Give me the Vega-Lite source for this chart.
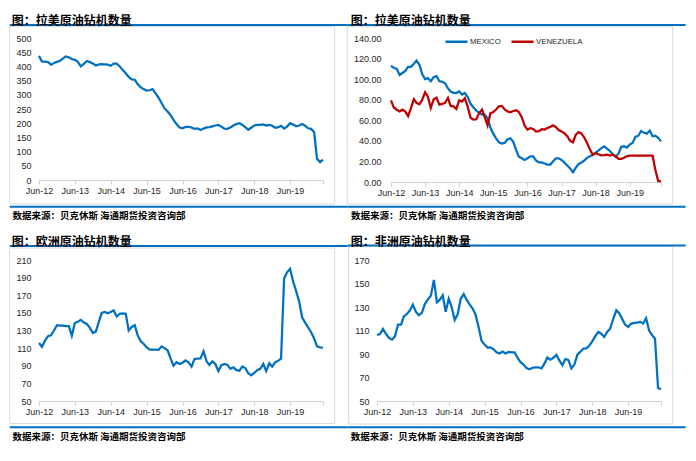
{
  "$schema": "https://vega.github.io/schema/vega-lite/v6.json",
  "background": "white",
  "padding": {"left": 8, "top": 14, "right": 2, "bottom": 2},
  "autosize": {"type": "pad"},
  "columns": 2,
  "spacing": {"row": 78, "column": 54},
  "bounds": "flush",
  "resolve": {"scale": {"color": "independent"}, "legend": {"color": "independent"}},
  "config": {
    "view": {"stroke": null},
    "title": {"anchor": "start", "frame": "bounds", "font": "Noto Sans CJK SC", "fontSize": 12, "fontWeight": "bold", "color": "#000000", "offset": -4},
    "axis": {"labelFont": "Liberation Sans", "labelFontSize": 9, "labelColor": "#262626", "grid": false, "labelOverlap": false},
    "axisX": {"domainColor": "#d0d0d0", "tickColor": "#d0d0d0", "tickSize": 4, "labelPadding": 2, "labelFlush": false, "labelOverlap": false, "labelBound": false},
    "axisY": {"domain": false, "ticks": false, "tickSize": 0, "labelPadding": 8, "labelOverlap": false}
  },
  "datasets": {
    "latam": [
      {"date":"2012-06-01","value":437},{"date":"2012-07-01","value":417},{"date":"2012-08-01","value":417},{"date":"2012-09-01","value":415},{"date":"2012-10-01","value":406},{"date":"2012-11-01","value":412},{"date":"2012-12-01","value":416},{"date":"2013-01-01","value":420},{"date":"2013-02-01","value":428},{"date":"2013-03-01","value":435},{"date":"2013-04-01","value":432},{"date":"2013-05-01","value":426},
      {"date":"2013-06-01","value":423},{"date":"2013-07-01","value":416},{"date":"2013-08-01","value":400},{"date":"2013-09-01","value":409},{"date":"2013-10-01","value":419},{"date":"2013-11-01","value":415},{"date":"2013-12-01","value":410},{"date":"2014-01-01","value":403},{"date":"2014-02-01","value":407},{"date":"2014-03-01","value":408},{"date":"2014-04-01","value":407},{"date":"2014-05-01","value":406},
      {"date":"2014-06-01","value":402},{"date":"2014-07-01","value":410},{"date":"2014-08-01","value":410},{"date":"2014-09-01","value":400},{"date":"2014-10-01","value":387},{"date":"2014-11-01","value":376},{"date":"2014-12-01","value":363},{"date":"2015-01-01","value":354},{"date":"2015-02-01","value":353},{"date":"2015-03-01","value":338},{"date":"2015-04-01","value":327},{"date":"2015-05-01","value":320},
      {"date":"2015-06-01","value":315},{"date":"2015-07-01","value":316},{"date":"2015-08-01","value":320},{"date":"2015-09-01","value":305},{"date":"2015-10-01","value":290},{"date":"2015-11-01","value":271},{"date":"2015-12-01","value":252},{"date":"2016-01-01","value":241},{"date":"2016-02-01","value":228},{"date":"2016-03-01","value":212},{"date":"2016-04-01","value":197},{"date":"2016-05-01","value":185},
      {"date":"2016-06-01","value":182},{"date":"2016-07-01","value":187},{"date":"2016-08-01","value":187},{"date":"2016-09-01","value":185},{"date":"2016-10-01","value":180},{"date":"2016-11-01","value":182},{"date":"2016-12-01","value":176},{"date":"2017-01-01","value":181},{"date":"2017-02-01","value":185},{"date":"2017-03-01","value":186},{"date":"2017-04-01","value":189},{"date":"2017-05-01","value":192},
      {"date":"2017-06-01","value":194},{"date":"2017-07-01","value":188},{"date":"2017-08-01","value":181},{"date":"2017-09-01","value":180},{"date":"2017-10-01","value":185},{"date":"2017-11-01","value":192},{"date":"2017-12-01","value":197},{"date":"2018-01-01","value":200},{"date":"2018-02-01","value":194},{"date":"2018-03-01","value":186},{"date":"2018-04-01","value":177},{"date":"2018-05-01","value":184},
      {"date":"2018-06-01","value":192},{"date":"2018-07-01","value":194},{"date":"2018-08-01","value":194},{"date":"2018-09-01","value":196},{"date":"2018-10-01","value":192},{"date":"2018-11-01","value":194},{"date":"2018-12-01","value":191},{"date":"2019-01-01","value":184},{"date":"2019-02-01","value":186},{"date":"2019-03-01","value":191},{"date":"2019-04-01","value":181},{"date":"2019-05-01","value":188},
      {"date":"2019-06-01","value":200},{"date":"2019-07-01","value":195},{"date":"2019-08-01","value":189},{"date":"2019-09-01","value":192},{"date":"2019-10-01","value":197},{"date":"2019-11-01","value":191},{"date":"2019-12-01","value":182},{"date":"2020-01-01","value":180},{"date":"2020-02-01","value":168},{"date":"2020-03-01","value":75},{"date":"2020-04-01","value":63},{"date":"2020-05-01","value":72}
    ],
    "latam_split": [
      {"date":"2012-06-01","series":"MEXICO","value":113},{"date":"2012-07-01","series":"MEXICO","value":111},{"date":"2012-08-01","series":"MEXICO","value":110},{"date":"2012-09-01","series":"MEXICO","value":104},{"date":"2012-10-01","series":"MEXICO","value":106},{"date":"2012-11-01","series":"MEXICO","value":108},{"date":"2012-12-01","series":"MEXICO","value":112},{"date":"2013-01-01","series":"MEXICO","value":112},{"date":"2013-02-01","series":"MEXICO","value":115},{"date":"2013-03-01","series":"MEXICO","value":118},{"date":"2013-04-01","series":"MEXICO","value":114},{"date":"2013-05-01","series":"MEXICO","value":105},
      {"date":"2013-06-01","series":"MEXICO","value":100},{"date":"2013-07-01","series":"MEXICO","value":101},{"date":"2013-08-01","series":"MEXICO","value":98},{"date":"2013-09-01","series":"MEXICO","value":102},{"date":"2013-10-01","series":"MEXICO","value":103},{"date":"2013-11-01","series":"MEXICO","value":98},{"date":"2013-12-01","series":"MEXICO","value":97.5},{"date":"2014-01-01","series":"MEXICO","value":96},{"date":"2014-02-01","series":"MEXICO","value":91},{"date":"2014-03-01","series":"MEXICO","value":88},{"date":"2014-04-01","series":"MEXICO","value":86.7},{"date":"2014-05-01","series":"MEXICO","value":86.5},
      {"date":"2014-06-01","series":"MEXICO","value":88},{"date":"2014-07-01","series":"MEXICO","value":85},{"date":"2014-08-01","series":"MEXICO","value":86.5},{"date":"2014-09-01","series":"MEXICO","value":82.5},{"date":"2014-10-01","series":"MEXICO","value":76},{"date":"2014-11-01","series":"MEXICO","value":72.5},{"date":"2014-12-01","series":"MEXICO","value":69.5},{"date":"2015-01-01","series":"MEXICO","value":67.3},{"date":"2015-02-01","series":"MEXICO","value":65.6},{"date":"2015-03-01","series":"MEXICO","value":65.5},{"date":"2015-04-01","series":"MEXICO","value":62},{"date":"2015-05-01","series":"MEXICO","value":53},
      {"date":"2015-06-01","series":"MEXICO","value":47},{"date":"2015-07-01","series":"MEXICO","value":42.5},{"date":"2015-08-01","series":"MEXICO","value":38.6},{"date":"2015-09-01","series":"MEXICO","value":37.3},{"date":"2015-10-01","series":"MEXICO","value":38},{"date":"2015-11-01","series":"MEXICO","value":41.5},{"date":"2015-12-01","series":"MEXICO","value":42.5},{"date":"2016-01-01","series":"MEXICO","value":39},{"date":"2016-02-01","series":"MEXICO","value":31},{"date":"2016-03-01","series":"MEXICO","value":24.5},{"date":"2016-04-01","series":"MEXICO","value":23},{"date":"2016-05-01","series":"MEXICO","value":21.5},
      {"date":"2016-06-01","series":"MEXICO","value":23},{"date":"2016-07-01","series":"MEXICO","value":25},{"date":"2016-08-01","series":"MEXICO","value":25},{"date":"2016-09-01","series":"MEXICO","value":21},{"date":"2016-10-01","series":"MEXICO","value":19},{"date":"2016-11-01","series":"MEXICO","value":19},{"date":"2016-12-01","series":"MEXICO","value":18},{"date":"2017-01-01","series":"MEXICO","value":17},{"date":"2017-02-01","series":"MEXICO","value":17},{"date":"2017-03-01","series":"MEXICO","value":20},{"date":"2017-04-01","series":"MEXICO","value":23},{"date":"2017-05-01","series":"MEXICO","value":23},
      {"date":"2017-06-01","series":"MEXICO","value":21.5},{"date":"2017-07-01","series":"MEXICO","value":19},{"date":"2017-08-01","series":"MEXICO","value":16},{"date":"2017-09-01","series":"MEXICO","value":13.2},{"date":"2017-10-01","series":"MEXICO","value":9.5},{"date":"2017-11-01","series":"MEXICO","value":14},{"date":"2017-12-01","series":"MEXICO","value":17.5},{"date":"2018-01-01","series":"MEXICO","value":19},{"date":"2018-02-01","series":"MEXICO","value":21},{"date":"2018-03-01","series":"MEXICO","value":23.5},{"date":"2018-04-01","series":"MEXICO","value":25},{"date":"2018-05-01","series":"MEXICO","value":26.3},
      {"date":"2018-06-01","series":"MEXICO","value":28.5},{"date":"2018-07-01","series":"MEXICO","value":30.5},{"date":"2018-08-01","series":"MEXICO","value":33},{"date":"2018-09-01","series":"MEXICO","value":34.6},{"date":"2018-10-01","series":"MEXICO","value":32.5},{"date":"2018-11-01","series":"MEXICO","value":30.2},{"date":"2018-12-01","series":"MEXICO","value":27},{"date":"2019-01-01","series":"MEXICO","value":24.6},{"date":"2019-02-01","series":"MEXICO","value":27.5},{"date":"2019-03-01","series":"MEXICO","value":34},{"date":"2019-04-01","series":"MEXICO","value":34.7},{"date":"2019-05-01","series":"MEXICO","value":33.5},
      {"date":"2019-06-01","series":"MEXICO","value":36.3},{"date":"2019-07-01","series":"MEXICO","value":38},{"date":"2019-08-01","series":"MEXICO","value":43.8},{"date":"2019-09-01","series":"MEXICO","value":45},{"date":"2019-10-01","series":"MEXICO","value":49.6},{"date":"2019-11-01","series":"MEXICO","value":47.8},{"date":"2019-12-01","series":"MEXICO","value":47},{"date":"2020-01-01","series":"MEXICO","value":50},{"date":"2020-02-01","series":"MEXICO","value":44.4},{"date":"2020-03-01","series":"MEXICO","value":45},{"date":"2020-04-01","series":"MEXICO","value":43},{"date":"2020-05-01","series":"MEXICO","value":39.5},
      {"date":"2012-06-01","series":"VENEZUELA","value":79.4},{"date":"2012-07-01","series":"VENEZUELA","value":72.5},{"date":"2012-08-01","series":"VENEZUELA","value":70.3},{"date":"2012-09-01","series":"VENEZUELA","value":68.7},{"date":"2012-10-01","series":"VENEZUELA","value":70.3},{"date":"2012-11-01","series":"VENEZUELA","value":68.5},{"date":"2012-12-01","series":"VENEZUELA","value":64},{"date":"2013-01-01","series":"VENEZUELA","value":72},{"date":"2013-02-01","series":"VENEZUELA","value":80.5},{"date":"2013-03-01","series":"VENEZUELA","value":77},{"date":"2013-04-01","series":"VENEZUELA","value":75.5},{"date":"2013-05-01","series":"VENEZUELA","value":80},
      {"date":"2013-06-01","series":"VENEZUELA","value":87.2},{"date":"2013-07-01","series":"VENEZUELA","value":83},{"date":"2013-08-01","series":"VENEZUELA","value":72},{"date":"2013-09-01","series":"VENEZUELA","value":80.5},{"date":"2013-10-01","series":"VENEZUELA","value":82},{"date":"2013-11-01","series":"VENEZUELA","value":75.2},{"date":"2013-12-01","series":"VENEZUELA","value":76},{"date":"2014-01-01","series":"VENEZUELA","value":77},{"date":"2014-02-01","series":"VENEZUELA","value":81.7},{"date":"2014-03-01","series":"VENEZUELA","value":74},{"date":"2014-04-01","series":"VENEZUELA","value":73.5},{"date":"2014-05-01","series":"VENEZUELA","value":71},
      {"date":"2014-06-01","series":"VENEZUELA","value":79.4},{"date":"2014-07-01","series":"VENEZUELA","value":78.2},{"date":"2014-08-01","series":"VENEZUELA","value":81.5},{"date":"2014-09-01","series":"VENEZUELA","value":73},{"date":"2014-10-01","series":"VENEZUELA","value":62.4},{"date":"2014-11-01","series":"VENEZUELA","value":60.6},{"date":"2014-12-01","series":"VENEZUELA","value":61},{"date":"2015-01-01","series":"VENEZUELA","value":67},{"date":"2015-02-01","series":"VENEZUELA","value":70.5},{"date":"2015-03-01","series":"VENEZUELA","value":63},{"date":"2015-04-01","series":"VENEZUELA","value":55},{"date":"2015-05-01","series":"VENEZUELA","value":66.7},
      {"date":"2015-06-01","series":"VENEZUELA","value":68},{"date":"2015-07-01","series":"VENEZUELA","value":70.5},{"date":"2015-08-01","series":"VENEZUELA","value":73.5},{"date":"2015-09-01","series":"VENEZUELA","value":74},{"date":"2015-10-01","series":"VENEZUELA","value":70.5},{"date":"2015-11-01","series":"VENEZUELA","value":68.6},{"date":"2015-12-01","series":"VENEZUELA","value":67.8},{"date":"2016-01-01","series":"VENEZUELA","value":69},{"date":"2016-02-01","series":"VENEZUELA","value":69.7},{"date":"2016-03-01","series":"VENEZUELA","value":68},{"date":"2016-04-01","series":"VENEZUELA","value":63},{"date":"2016-05-01","series":"VENEZUELA","value":55},
      {"date":"2016-06-01","series":"VENEZUELA","value":51},{"date":"2016-07-01","series":"VENEZUELA","value":52.3},{"date":"2016-08-01","series":"VENEZUELA","value":51.5},{"date":"2016-09-01","series":"VENEZUELA","value":49},{"date":"2016-10-01","series":"VENEZUELA","value":49.5},{"date":"2016-11-01","series":"VENEZUELA","value":51.3},{"date":"2016-12-01","series":"VENEZUELA","value":51},{"date":"2017-01-01","series":"VENEZUELA","value":52.5},{"date":"2017-02-01","series":"VENEZUELA","value":53.6},{"date":"2017-03-01","series":"VENEZUELA","value":55.2},{"date":"2017-04-01","series":"VENEZUELA","value":53.5},{"date":"2017-05-01","series":"VENEZUELA","value":50.5},
      {"date":"2017-06-01","series":"VENEZUELA","value":49},{"date":"2017-07-01","series":"VENEZUELA","value":47.5},{"date":"2017-08-01","series":"VENEZUELA","value":44.5},{"date":"2017-09-01","series":"VENEZUELA","value":40},{"date":"2017-10-01","series":"VENEZUELA","value":38.5},{"date":"2017-11-01","series":"VENEZUELA","value":46},{"date":"2017-12-01","series":"VENEZUELA","value":48.5},{"date":"2018-01-01","series":"VENEZUELA","value":47},{"date":"2018-02-01","series":"VENEZUELA","value":43},{"date":"2018-03-01","series":"VENEZUELA","value":38},{"date":"2018-04-01","series":"VENEZUELA","value":31.5},{"date":"2018-05-01","series":"VENEZUELA","value":26.6},
      {"date":"2018-06-01","series":"VENEZUELA","value":28},{"date":"2018-07-01","series":"VENEZUELA","value":27},{"date":"2018-08-01","series":"VENEZUELA","value":26},{"date":"2018-09-01","series":"VENEZUELA","value":26.2},{"date":"2018-10-01","series":"VENEZUELA","value":26.5},{"date":"2018-11-01","series":"VENEZUELA","value":25.8},{"date":"2018-12-01","series":"VENEZUELA","value":26.6},{"date":"2019-01-01","series":"VENEZUELA","value":25},{"date":"2019-02-01","series":"VENEZUELA","value":22.5},{"date":"2019-03-01","series":"VENEZUELA","value":22.4},{"date":"2019-04-01","series":"VENEZUELA","value":23.5},{"date":"2019-05-01","series":"VENEZUELA","value":25},
      {"date":"2019-06-01","series":"VENEZUELA","value":25.6},{"date":"2019-07-01","series":"VENEZUELA","value":25.6},{"date":"2019-08-01","series":"VENEZUELA","value":25.6},{"date":"2019-09-01","series":"VENEZUELA","value":25.6},{"date":"2019-10-01","series":"VENEZUELA","value":25.6},{"date":"2019-11-01","series":"VENEZUELA","value":25.6},{"date":"2019-12-01","series":"VENEZUELA","value":25.6},{"date":"2020-01-01","series":"VENEZUELA","value":25.6},{"date":"2020-02-01","series":"VENEZUELA","value":25.6},{"date":"2020-03-01","series":"VENEZUELA","value":12},{"date":"2020-04-01","series":"VENEZUELA","value":1},{"date":"2020-05-01","series":"VENEZUELA","value":0.6}
    ],
    "europe": [
      {"date":"2012-06-01","value":115.8},{"date":"2012-07-01","value":111.5},{"date":"2012-08-01","value":118.5},{"date":"2012-09-01","value":123.5},{"date":"2012-10-01","value":124.5},{"date":"2012-11-01","value":130},{"date":"2012-12-01","value":136},{"date":"2013-01-01","value":135.5},{"date":"2013-02-01","value":135.5},{"date":"2013-03-01","value":135},{"date":"2013-04-01","value":135},{"date":"2013-05-01","value":124},
      {"date":"2013-06-01","value":138.5},{"date":"2013-07-01","value":140},{"date":"2013-08-01","value":142},{"date":"2013-09-01","value":139},{"date":"2013-10-01","value":137.4},{"date":"2013-11-01","value":133},{"date":"2013-12-01","value":127.2},{"date":"2014-01-01","value":129},{"date":"2014-02-01","value":140},{"date":"2014-03-01","value":150},{"date":"2014-04-01","value":151},{"date":"2014-05-01","value":149.5},
      {"date":"2014-06-01","value":151},{"date":"2014-07-01","value":153},{"date":"2014-08-01","value":146},{"date":"2014-09-01","value":149},{"date":"2014-10-01","value":149.5},{"date":"2014-11-01","value":149},{"date":"2014-12-01","value":130},{"date":"2015-01-01","value":134},{"date":"2015-02-01","value":136},{"date":"2015-03-01","value":125},{"date":"2015-04-01","value":118},{"date":"2015-05-01","value":115},
      {"date":"2015-06-01","value":111},{"date":"2015-07-01","value":108.3},{"date":"2015-08-01","value":108.3},{"date":"2015-09-01","value":108.3},{"date":"2015-10-01","value":108},{"date":"2015-11-01","value":112},{"date":"2015-12-01","value":110},{"date":"2016-01-01","value":107.5},{"date":"2016-02-01","value":98},{"date":"2016-03-01","value":90.1},{"date":"2016-04-01","value":94},{"date":"2016-05-01","value":92},
      {"date":"2016-06-01","value":93.5},{"date":"2016-07-01","value":96},{"date":"2016-08-01","value":94},{"date":"2016-09-01","value":89},{"date":"2016-10-01","value":97.7},{"date":"2016-11-01","value":98.2},{"date":"2016-12-01","value":98.4},{"date":"2017-01-01","value":106.5},{"date":"2017-02-01","value":95},{"date":"2017-03-01","value":91},{"date":"2017-04-01","value":95},{"date":"2017-05-01","value":92},
      {"date":"2017-06-01","value":84},{"date":"2017-07-01","value":90.5},{"date":"2017-08-01","value":92},{"date":"2017-09-01","value":91},{"date":"2017-10-01","value":86.5},{"date":"2017-11-01","value":88.2},{"date":"2017-12-01","value":85},{"date":"2018-01-01","value":84.4},{"date":"2018-02-01","value":89.3},{"date":"2018-03-01","value":87.5},{"date":"2018-04-01","value":81.5},{"date":"2018-05-01","value":79},
      {"date":"2018-06-01","value":81.8},{"date":"2018-07-01","value":85},{"date":"2018-08-01","value":86.5},{"date":"2018-09-01","value":92},{"date":"2018-10-01","value":84},{"date":"2018-11-01","value":93},{"date":"2018-12-01","value":89},{"date":"2019-01-01","value":94},{"date":"2019-02-01","value":95.8},{"date":"2019-03-01","value":98},{"date":"2019-04-01","value":189},{"date":"2019-05-01","value":196},
      {"date":"2019-06-01","value":200},{"date":"2019-07-01","value":186},{"date":"2019-08-01","value":175},{"date":"2019-09-01","value":163},{"date":"2019-10-01","value":145},{"date":"2019-11-01","value":139},{"date":"2019-12-01","value":133.6},{"date":"2020-01-01","value":128},{"date":"2020-02-01","value":121},{"date":"2020-03-01","value":112},{"date":"2020-04-01","value":110.9},{"date":"2020-05-01","value":110.5}
    ],
    "africa": [
      {"date":"2012-06-01","value":106.2},{"date":"2012-07-01","value":107},{"date":"2012-08-01","value":111.3},{"date":"2012-09-01","value":107},{"date":"2012-10-01","value":103.8},{"date":"2012-11-01","value":102.2},{"date":"2012-12-01","value":105},{"date":"2013-01-01","value":115},{"date":"2013-02-01","value":115},{"date":"2013-03-01","value":122},{"date":"2013-04-01","value":124},{"date":"2013-05-01","value":127},
      {"date":"2013-06-01","value":132},{"date":"2013-07-01","value":126},{"date":"2013-08-01","value":123},{"date":"2013-09-01","value":125},{"date":"2013-10-01","value":132.5},{"date":"2013-11-01","value":136.5},{"date":"2013-12-01","value":139.5},{"date":"2014-01-01","value":153},{"date":"2014-02-01","value":134},{"date":"2014-03-01","value":136},{"date":"2014-04-01","value":140},{"date":"2014-05-01","value":126},
      {"date":"2014-06-01","value":137},{"date":"2014-07-01","value":130},{"date":"2014-08-01","value":119},{"date":"2014-09-01","value":124},{"date":"2014-10-01","value":137},{"date":"2014-11-01","value":141},{"date":"2014-12-01","value":136},{"date":"2015-01-01","value":132},{"date":"2015-02-01","value":128.5},{"date":"2015-03-01","value":123.5},{"date":"2015-04-01","value":113},{"date":"2015-05-01","value":101.3},
      {"date":"2015-06-01","value":98},{"date":"2015-07-01","value":95.5},{"date":"2015-08-01","value":95.7},{"date":"2015-09-01","value":94},{"date":"2015-10-01","value":91.4},{"date":"2015-11-01","value":90.5},{"date":"2015-12-01","value":92},{"date":"2016-01-01","value":90.4},{"date":"2016-02-01","value":91.7},{"date":"2016-03-01","value":91.4},{"date":"2016-04-01","value":91.4},{"date":"2016-05-01","value":87},
      {"date":"2016-06-01","value":83},{"date":"2016-07-01","value":81},{"date":"2016-08-01","value":78},{"date":"2016-09-01","value":77},{"date":"2016-10-01","value":78.3},{"date":"2016-11-01","value":78.7},{"date":"2016-12-01","value":78.7},{"date":"2017-01-01","value":77.7},{"date":"2017-02-01","value":82},{"date":"2017-03-01","value":87},{"date":"2017-04-01","value":85.2},{"date":"2017-05-01","value":86.8},
      {"date":"2017-06-01","value":89.2},{"date":"2017-07-01","value":84.5},{"date":"2017-08-01","value":80.5},{"date":"2017-09-01","value":85.7},{"date":"2017-10-01","value":85},{"date":"2017-11-01","value":77.8},{"date":"2017-12-01","value":81},{"date":"2018-01-01","value":89.5},{"date":"2018-02-01","value":92},{"date":"2018-03-01","value":94.5},{"date":"2018-04-01","value":94.8},{"date":"2018-05-01","value":97},
      {"date":"2018-06-01","value":100.8},{"date":"2018-07-01","value":105},{"date":"2018-08-01","value":108.8},{"date":"2018-09-01","value":107.3},{"date":"2018-10-01","value":104.5},{"date":"2018-11-01","value":109},{"date":"2018-12-01","value":111.5},{"date":"2019-01-01","value":120},{"date":"2019-02-01","value":127.2},{"date":"2019-03-01","value":125},{"date":"2019-04-01","value":120},{"date":"2019-05-01","value":115},
      {"date":"2019-06-01","value":113},{"date":"2019-07-01","value":115.7},{"date":"2019-08-01","value":116.4},{"date":"2019-09-01","value":116.6},{"date":"2019-10-01","value":117.4},{"date":"2019-11-01","value":116},{"date":"2019-12-01","value":120.4},{"date":"2020-01-01","value":110},{"date":"2020-02-01","value":106},{"date":"2020-03-01","value":103},{"date":"2020-04-01","value":61},{"date":"2020-05-01","value":60}
    ]
  },
  "concat": [
    {
      "width": 284, "height": 142,
      "title": {"text": "图：拉美原油钻机数量", "dx": 3},
      "layer": [
        {
          "data": {"name": "latam"},
          "mark": {"type": "line", "color": "#0070C0", "strokeWidth": 2.25},
          "encoding": {
            "x": {"field": "date", "type": "temporal",
              "scale": {"domain": [{"year": 2012, "month": 6, "date": 1}, {"year": 2020, "month": 5, "date": 1}], "nice": false},
              "axis": {"title": null, "format": "%b-%y", "tickCount": 40, "labelOverlap": false, "labelExpr": "year(datum.value) >= 2020 ? '' : datum.label",
                "values": [{"year": 2012, "month": 6, "date": 1}, {"year": 2013, "month": 6, "date": 1}, {"year": 2014, "month": 6, "date": 1}, {"year": 2015, "month": 6, "date": 1}, {"year": 2016, "month": 6, "date": 1}, {"year": 2017, "month": 6, "date": 1}, {"year": 2018, "month": 6, "date": 1}, {"year": 2019, "month": 6, "date": 1}, {"year": 2020, "month": 5, "date": 1}]}},
            "y": {"field": "value", "type": "quantitative",
              "scale": {"domain": [0, 500], "nice": false, "zero": false},
              "axis": {"title": null, "tickCount": 40, "labelOverlap": false, "values": [0, 50, 100, 150, 200, 250, 300, 350, 400, 450, 500]}}
          }
        },
        {
          "data": {"values": [{}]},
          "mark": {"type": "rect", "fill": "transparent", "stroke": "#d9d9d9", "strokeWidth": 1},
          "encoding": {
            "x": {"datum": {"year": 2011, "month": 8, "date": 8}, "type": "temporal", "axis": {"labelOverlap": false}},
            "x2": {"datum": {"year": 2020, "month": 8, "date": 28}},
            "y": {"datum": 540, "type": "quantitative", "axis": {"labelOverlap": false}},
            "y2": {"datum": -84.5}
          }
        },
        {
          "data": {"values": [{}]},
          "mark": {"type": "rule", "color": "#0070C0", "strokeWidth": 2},
          "encoding": {
            "x": {"datum": {"year": 2011, "month": 8, "date": 8}, "type": "temporal", "axis": {"labelOverlap": false}},
            "x2": {"datum": {"year": 2021, "month": 1, "date": 7}},
            "y": {"datum": 546, "type": "quantitative", "axis": {"labelOverlap": false}}
          }
        },
        {
          "data": {"values": [{}]},
          "mark": {"type": "rule", "color": "#0070C0", "strokeWidth": 2},
          "encoding": {
            "x": {"datum": {"year": 2011, "month": 8, "date": 8}, "type": "temporal", "axis": {"labelOverlap": false}},
            "x2": {"datum": {"year": 2021, "month": 1, "date": 7}},
            "y": {"datum": -94.4, "type": "quantitative", "axis": {"labelOverlap": false}}
          }
        },
        {
          "data": {"values": [{}]},
          "mark": {"type": "text", "text": "数据来源：贝克休斯  海通期货投资咨询部", "align": "left", "baseline": "middle", "font": "Noto Sans CJK SC", "fontSize": 9.5, "fontWeight": "bold", "color": "#000000"},
          "encoding": {
            "x": {"datum": {"year": 2011, "month": 9, "date": 4}, "type": "temporal", "axis": {"labelOverlap": false}},
            "y": {"datum": -126.8, "type": "quantitative", "axis": {"labelOverlap": false}}
          }
        }
      ]
    },
    {
      "width": 284, "height": 144,
      "title": {"text": "图：拉美原油钻机数量", "dx": 4},
      "resolve": {"legend": {"color": "independent"}},
      "layer": [
        {
          "data": {"name": "latam_split"},
          "mark": {"type": "line", "strokeWidth": 2.25},
          "encoding": {
            "x": {"field": "date", "type": "temporal",
              "scale": {"domain": [{"year": 2012, "month": 6, "date": 1}, {"year": 2020, "month": 5, "date": 1}], "nice": false, "range": [14, 284]},
              "axis": {"title": null, "format": "%b-%y", "tickCount": 40, "labelOverlap": false, "labelExpr": "year(datum.value) >= 2020 ? '' : datum.label",
                "values": [{"year": 2012, "month": 6, "date": 1}, {"year": 2013, "month": 6, "date": 1}, {"year": 2014, "month": 6, "date": 1}, {"year": 2015, "month": 6, "date": 1}, {"year": 2016, "month": 6, "date": 1}, {"year": 2017, "month": 6, "date": 1}, {"year": 2018, "month": 6, "date": 1}, {"year": 2019, "month": 6, "date": 1}, {"year": 2020, "month": 5, "date": 1}]}},
            "y": {"field": "value", "type": "quantitative",
              "scale": {"domain": [0, 140], "nice": false, "zero": false},
              "axis": {"title": null, "format": ".2f", "offset": -14, "labelPadding": 10, "tickCount": 40, "labelOverlap": false, "values": [0, 20, 40, 60, 80, 100, 120, 140]}},
            "color": {"field": "series", "type": "nominal",
              "scale": {"domain": ["MEXICO", "VENEZUELA"], "range": ["#0070C0", "#C00000"]},
              "legend": {"orient": "none", "legendX": 67, "legendY": -9, "direction": "horizontal", "title": null, "symbolType": "stroke", "symbolSize": 484, "symbolStrokeWidth": 2.5, "labelFont": "Liberation Sans", "labelFontSize": 7.8, "labelColor": "#262626", "columnPadding": 5, "labelOffset": 1, "padding": 0}}
          }
        },
        {
          "data": {"values": [{}]},
          "mark": {"type": "rect", "fill": "transparent", "stroke": "#d9d9d9", "strokeWidth": 1},
          "encoding": {
            "x": {"datum": {"year": 2011, "month": 2, "date": 18}, "type": "temporal", "axis": {"labelOverlap": false}},
            "x2": {"datum": {"year": 2020, "month": 9, "date": 3}},
            "y": {"datum": 151, "type": "quantitative", "axis": {"labelOverlap": false}},
            "y2": {"datum": -21.4}
          }
        },
        {
          "data": {"values": [{}]},
          "mark": {"type": "rule", "color": "#0070C0", "strokeWidth": 2},
          "encoding": {
            "x": {"datum": {"year": 2011, "month": 2, "date": 23}, "type": "temporal", "axis": {"labelOverlap": false}},
            "x2": {"datum": {"year": 2021, "month": 1, "date": 20}},
            "y": {"datum": 152.6, "type": "quantitative", "axis": {"labelOverlap": false}}
          }
        },
        {
          "data": {"values": [{}]},
          "mark": {"type": "rule", "color": "#0070C0", "strokeWidth": 2},
          "encoding": {
            "x": {"datum": {"year": 2011, "month": 2, "date": 23}, "type": "temporal", "axis": {"labelOverlap": false}},
            "x2": {"datum": {"year": 2021, "month": 1, "date": 20}},
            "y": {"datum": -24.1, "type": "quantitative", "axis": {"labelOverlap": false}}
          }
        },
        {
          "data": {"values": [{}]},
          "mark": {"type": "text", "text": "数据来源：贝克休斯  海通期货投资咨询部", "align": "left", "baseline": "middle", "font": "Noto Sans CJK SC", "fontSize": 9.5, "fontWeight": "bold", "color": "#000000"},
          "encoding": {
            "x": {"datum": {"year": 2011, "month": 4, "date": 1}, "type": "temporal", "axis": {"labelOverlap": false}},
            "y": {"datum": -33.1, "type": "quantitative", "axis": {"labelOverlap": false}}
          }
        }
      ]
    },
    {
      "width": 284, "height": 141,
      "title": {"text": "图：欧洲原油钻机数量", "dx": 3},
      "layer": [
        {
          "data": {"name": "europe"},
          "mark": {"type": "line", "color": "#0070C0", "strokeWidth": 2.25},
          "encoding": {
            "x": {"field": "date", "type": "temporal",
              "scale": {"domain": [{"year": 2012, "month": 6, "date": 1}, {"year": 2020, "month": 5, "date": 1}], "nice": false},
              "axis": {"title": null, "format": "%b-%y", "tickCount": 40, "labelOverlap": false, "labelExpr": "year(datum.value) >= 2020 ? '' : datum.label",
                "values": [{"year": 2012, "month": 6, "date": 1}, {"year": 2013, "month": 6, "date": 1}, {"year": 2014, "month": 6, "date": 1}, {"year": 2015, "month": 6, "date": 1}, {"year": 2016, "month": 6, "date": 1}, {"year": 2017, "month": 6, "date": 1}, {"year": 2018, "month": 6, "date": 1}, {"year": 2019, "month": 6, "date": 1}, {"year": 2020, "month": 5, "date": 1}]}},
            "y": {"field": "value", "type": "quantitative",
              "scale": {"domain": [50, 210], "nice": false, "zero": false},
              "axis": {"title": null, "tickCount": 40, "labelOverlap": false, "values": [50, 70, 90, 110, 130, 150, 170, 190, 210]}}
          }
        },
        {
          "data": {"values": [{}]},
          "mark": {"type": "rect", "fill": "transparent", "stroke": "#d9d9d9", "strokeWidth": 1},
          "encoding": {
            "x": {"datum": {"year": 2011, "month": 8, "date": 8}, "type": "temporal", "axis": {"labelOverlap": false}},
            "x2": {"datum": {"year": 2020, "month": 8, "date": 28}},
            "y": {"datum": 223.6, "type": "quantitative", "axis": {"labelOverlap": false}},
            "y2": {"datum": 24.5}
          }
        },
        {
          "data": {"values": [{}]},
          "mark": {"type": "rule", "color": "#0070C0", "strokeWidth": 2},
          "encoding": {
            "x": {"datum": {"year": 2011, "month": 8, "date": 8}, "type": "temporal", "axis": {"labelOverlap": false}},
            "x2": {"datum": {"year": 2021, "month": 1, "date": 7}},
            "y": {"datum": 225.9, "type": "quantitative", "axis": {"labelOverlap": false}}
          }
        },
        {
          "data": {"values": [{}]},
          "mark": {"type": "rule", "color": "#0070C0", "strokeWidth": 2},
          "encoding": {
            "x": {"datum": {"year": 2011, "month": 8, "date": 8}, "type": "temporal", "axis": {"labelOverlap": false}},
            "x2": {"datum": {"year": 2021, "month": 1, "date": 7}},
            "y": {"datum": 20.2, "type": "quantitative", "axis": {"labelOverlap": false}}
          }
        },
        {
          "data": {"values": [{}]},
          "mark": {"type": "text", "text": "数据来源：贝克休斯  海通期货投资咨询部", "align": "left", "baseline": "middle", "font": "Noto Sans CJK SC", "fontSize": 9.5, "fontWeight": "bold", "color": "#000000"},
          "encoding": {
            "x": {"datum": {"year": 2011, "month": 9, "date": 4}, "type": "temporal", "axis": {"labelOverlap": false}},
            "y": {"datum": 9.15, "type": "quantitative", "axis": {"labelOverlap": false}}
          }
        }
      ]
    },
    {
      "width": 284, "height": 141,
      "title": {"text": "图：非洲原油钻机数量", "dx": 4},
      "layer": [
        {
          "data": {"name": "africa"},
          "mark": {"type": "line", "color": "#0070C0", "strokeWidth": 2.25},
          "encoding": {
            "x": {"field": "date", "type": "temporal",
              "scale": {"domain": [{"year": 2012, "month": 6, "date": 1}, {"year": 2020, "month": 5, "date": 1}], "nice": false},
              "axis": {"title": null, "format": "%b-%y", "tickCount": 40, "labelOverlap": false, "labelExpr": "year(datum.value) >= 2020 ? '' : datum.label",
                "values": [{"year": 2012, "month": 6, "date": 1}, {"year": 2013, "month": 6, "date": 1}, {"year": 2014, "month": 6, "date": 1}, {"year": 2015, "month": 6, "date": 1}, {"year": 2016, "month": 6, "date": 1}, {"year": 2017, "month": 6, "date": 1}, {"year": 2018, "month": 6, "date": 1}, {"year": 2019, "month": 6, "date": 1}, {"year": 2020, "month": 5, "date": 1}]}},
            "y": {"field": "value", "type": "quantitative",
              "scale": {"domain": [50, 170], "nice": false, "zero": false},
              "axis": {"title": null, "tickCount": 40, "labelOverlap": false, "values": [50, 70, 90, 110, 130, 150, 170]}}
          }
        },
        {
          "data": {"values": [{}]},
          "mark": {"type": "rect", "fill": "transparent", "stroke": "#d9d9d9", "strokeWidth": 1},
          "encoding": {
            "x": {"datum": {"year": 2011, "month": 8, "date": 18}, "type": "temporal", "axis": {"labelOverlap": false}},
            "x2": {"datum": {"year": 2020, "month": 8, "date": 28}},
            "y": {"datum": 181.5, "type": "quantitative", "axis": {"labelOverlap": false}},
            "y2": {"datum": 30.4}
          }
        },
        {
          "data": {"values": [{}]},
          "mark": {"type": "rule", "color": "#0070C0", "strokeWidth": 2},
          "encoding": {
            "x": {"datum": {"year": 2011, "month": 8, "date": 8}, "type": "temporal", "axis": {"labelOverlap": false}},
            "x2": {"datum": {"year": 2021, "month": 1, "date": 7}},
            "y": {"datum": 182.3, "type": "quantitative", "axis": {"labelOverlap": false}}
          }
        },
        {
          "data": {"values": [{}]},
          "mark": {"type": "rule", "color": "#0070C0", "strokeWidth": 2},
          "encoding": {
            "x": {"datum": {"year": 2011, "month": 8, "date": 8}, "type": "temporal", "axis": {"labelOverlap": false}},
            "x2": {"datum": {"year": 2021, "month": 1, "date": 7}},
            "y": {"datum": 27.6, "type": "quantitative", "axis": {"labelOverlap": false}}
          }
        },
        {
          "data": {"values": [{}]},
          "mark": {"type": "text", "text": "数据来源：贝克休斯  海通期货投资咨询部", "align": "left", "baseline": "middle", "font": "Noto Sans CJK SC", "fontSize": 9.5, "fontWeight": "bold", "color": "#000000"},
          "encoding": {
            "x": {"datum": {"year": 2011, "month": 9, "date": 7}, "type": "temporal", "axis": {"labelOverlap": false}},
            "y": {"datum": 19.4, "type": "quantitative", "axis": {"labelOverlap": false}}
          }
        }
      ]
    }
  ]
}
